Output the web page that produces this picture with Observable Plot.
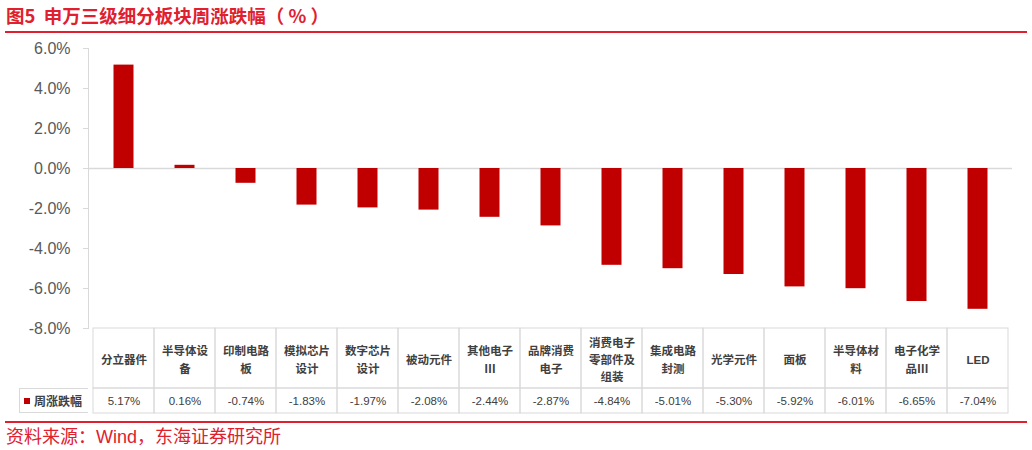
<!DOCTYPE html>
<html>
<head>
<meta charset="utf-8">
<script src="https://cdn.jsdelivr.net/npm/d3@7"></script>
<script src="https://cdn.jsdelivr.net/npm/@observablehq/plot@0.6"></script>
<style>
  html, body { margin: 0; padding: 0; background: #fff; }
  body { width: 1032px; height: 450px; position: relative; overflow: hidden;
         font-family: "Liberation Sans", "Noto Sans CJK SC", sans-serif; }
  #title { position: absolute; left: 6px; top: 3px; font: bold 18.5px/24px "Noto Sans CJK SC", sans-serif;
           color: #E0202E; white-space: pre; }
  .redline { position: absolute; left: 5px; width: 1022px; height: 2px; background: #E0202E; }
  #source { position: absolute; left: 6px; top: 426px; font: 18px/22px "Liberation Sans", "Noto Sans CJK SC", sans-serif;
            color: #E0202E; white-space: pre; }
  #chart, #catRow, #valRow { position: absolute; left: 0; }
  #chart { top: 34px; }
  #catRow { top: 327px; }
  #valRow { top: 387px; }
  #legend { position: absolute; left: 19px; top: 388px; width: 69px; height: 25px; box-sizing: border-box;
            border: 1px solid #d9d9d9; border-right: none; display: flex; align-items: center;
            font: bold 12px "Noto Sans CJK SC", sans-serif; color: #404040; }
  #legend .sw { width: 6px; height: 6px; background: #C00000; margin: 0 4px 0 4px; }
</style>
</head>
<body>
<div id="title">图5  申万三级细分板块周涨跌幅（ % ）</div>
<div class="redline" style="top:31px"></div>
<div id="chart"></div>
<div id="catRow"></div>
<div id="valRow"></div>
<div id="legend"><span class="sw"></span><span>周涨跌幅</span></div>
<div class="redline" style="top:421px"></div>
<div id="source">资料来源：Wind，东海证券研究所</div>
<script>
// ---- data ----
const categories = [
  "分立器件", "半导体设备", "印制电路板", "模拟芯片设计", "数字芯片设计",
  "被动元件", "其他电子Ⅲ", "品牌消费电子", "消费电子零部件及组装", "集成电路封测",
  "光学元件", "面板", "半导体材料", "电子化学品Ⅲ", "LED"
];
const categoryLabels = [
  "分立器件", "半导体设\n备", "印制电路\n板", "模拟芯片\n设计", "数字芯片\n设计",
  "被动元件", "其他电子\nⅢ", "品牌消费\n电子", "消费电子\n零部件及\n组装", "集成电路\n封测",
  "光学元件", "面板", "半导体材\n料", "电子化学\n品Ⅲ", "LED"
];
const weeklyChange = [5.17, 0.16, -0.74, -1.83, -1.97, -2.08, -2.44, -2.87, -4.84, -5.01, -5.30, -5.92, -6.01, -6.65, -7.04];
const yTicks = [-8, -6, -4, -2, 0, 2, 4, 6];
const seriesName = "周涨跌幅";

const rows = categories.map((c, i) => ({name: c, label: categoryLabels[i], value: weeklyChange[i]}));

const W = 1032, ML = 88, MR = 20;
const gridColor = "#d9d9d9";
const textColor = "#404040";
const barColor = "#C00000";
const fontFamily = '"Liberation Sans", "Noto Sans CJK SC", sans-serif';

const chart = Plot.plot({
  width: W, height: 302,
  marginTop: 14, marginBottom: 8, marginLeft: ML, marginRight: MR,
  style: {fontFamily, background: "transparent", overflow: "visible"},
  x: {domain: categories, padding: 0, axis: null},
  y: {domain: [-8, 6]},
  marks: [
    Plot.ruleY([0], {stroke: gridColor, strokeWidth: 1.5}),
    Plot.barY(rows, {x: "name", y: "value", fill: barColor, insetLeft: 20.5, insetRight: 20.5}),
    Plot.axisY({ticks: yTicks, tickFormat: d => d.toFixed(1) + "%", tickSize: 5, tickPadding: 13,
                fontSize: 16, fill: "#595959", stroke: gridColor, label: null}),
    Plot.frame({anchor: "left", stroke: gridColor})
  ]
});
document.getElementById("chart").appendChild(chart);

const catRow = Plot.plot({
  width: W, height: 62,
  marginTop: 1, marginBottom: 1, marginLeft: ML, marginRight: MR,
  style: {fontFamily, background: "transparent", overflow: "visible"},
  x: {domain: categories, padding: 0, axis: null},
  marks: [
    Plot.cell(rows, {x: "name", stroke: gridColor, fill: "none", inset: 0}),
    Plot.text(rows, {x: "name", text: "label", frameAnchor: "middle", lineHeight: 1.5,
                     fontSize: 11.5, fontWeight: "bold", fill: textColor, letterSpacing: -0.8})
  ]
});
document.getElementById("catRow").appendChild(catRow);

const valRow = Plot.plot({
  width: W, height: 27,
  marginTop: 1, marginBottom: 1, marginLeft: ML, marginRight: MR,
  style: {fontFamily, background: "transparent", overflow: "visible"},
  x: {domain: categories, padding: 0, axis: null},
  marks: [
    Plot.cell(rows, {x: "name", stroke: gridColor, fill: "none", inset: 0}),
    Plot.text(rows, {x: "name", text: d => d.value.toFixed(2) + "%", frameAnchor: "middle",
                     fontSize: 11.5, fill: textColor, letterSpacing: 0.3})
  ]
});
document.getElementById("valRow").appendChild(valRow);
</script>
</body>
</html>
